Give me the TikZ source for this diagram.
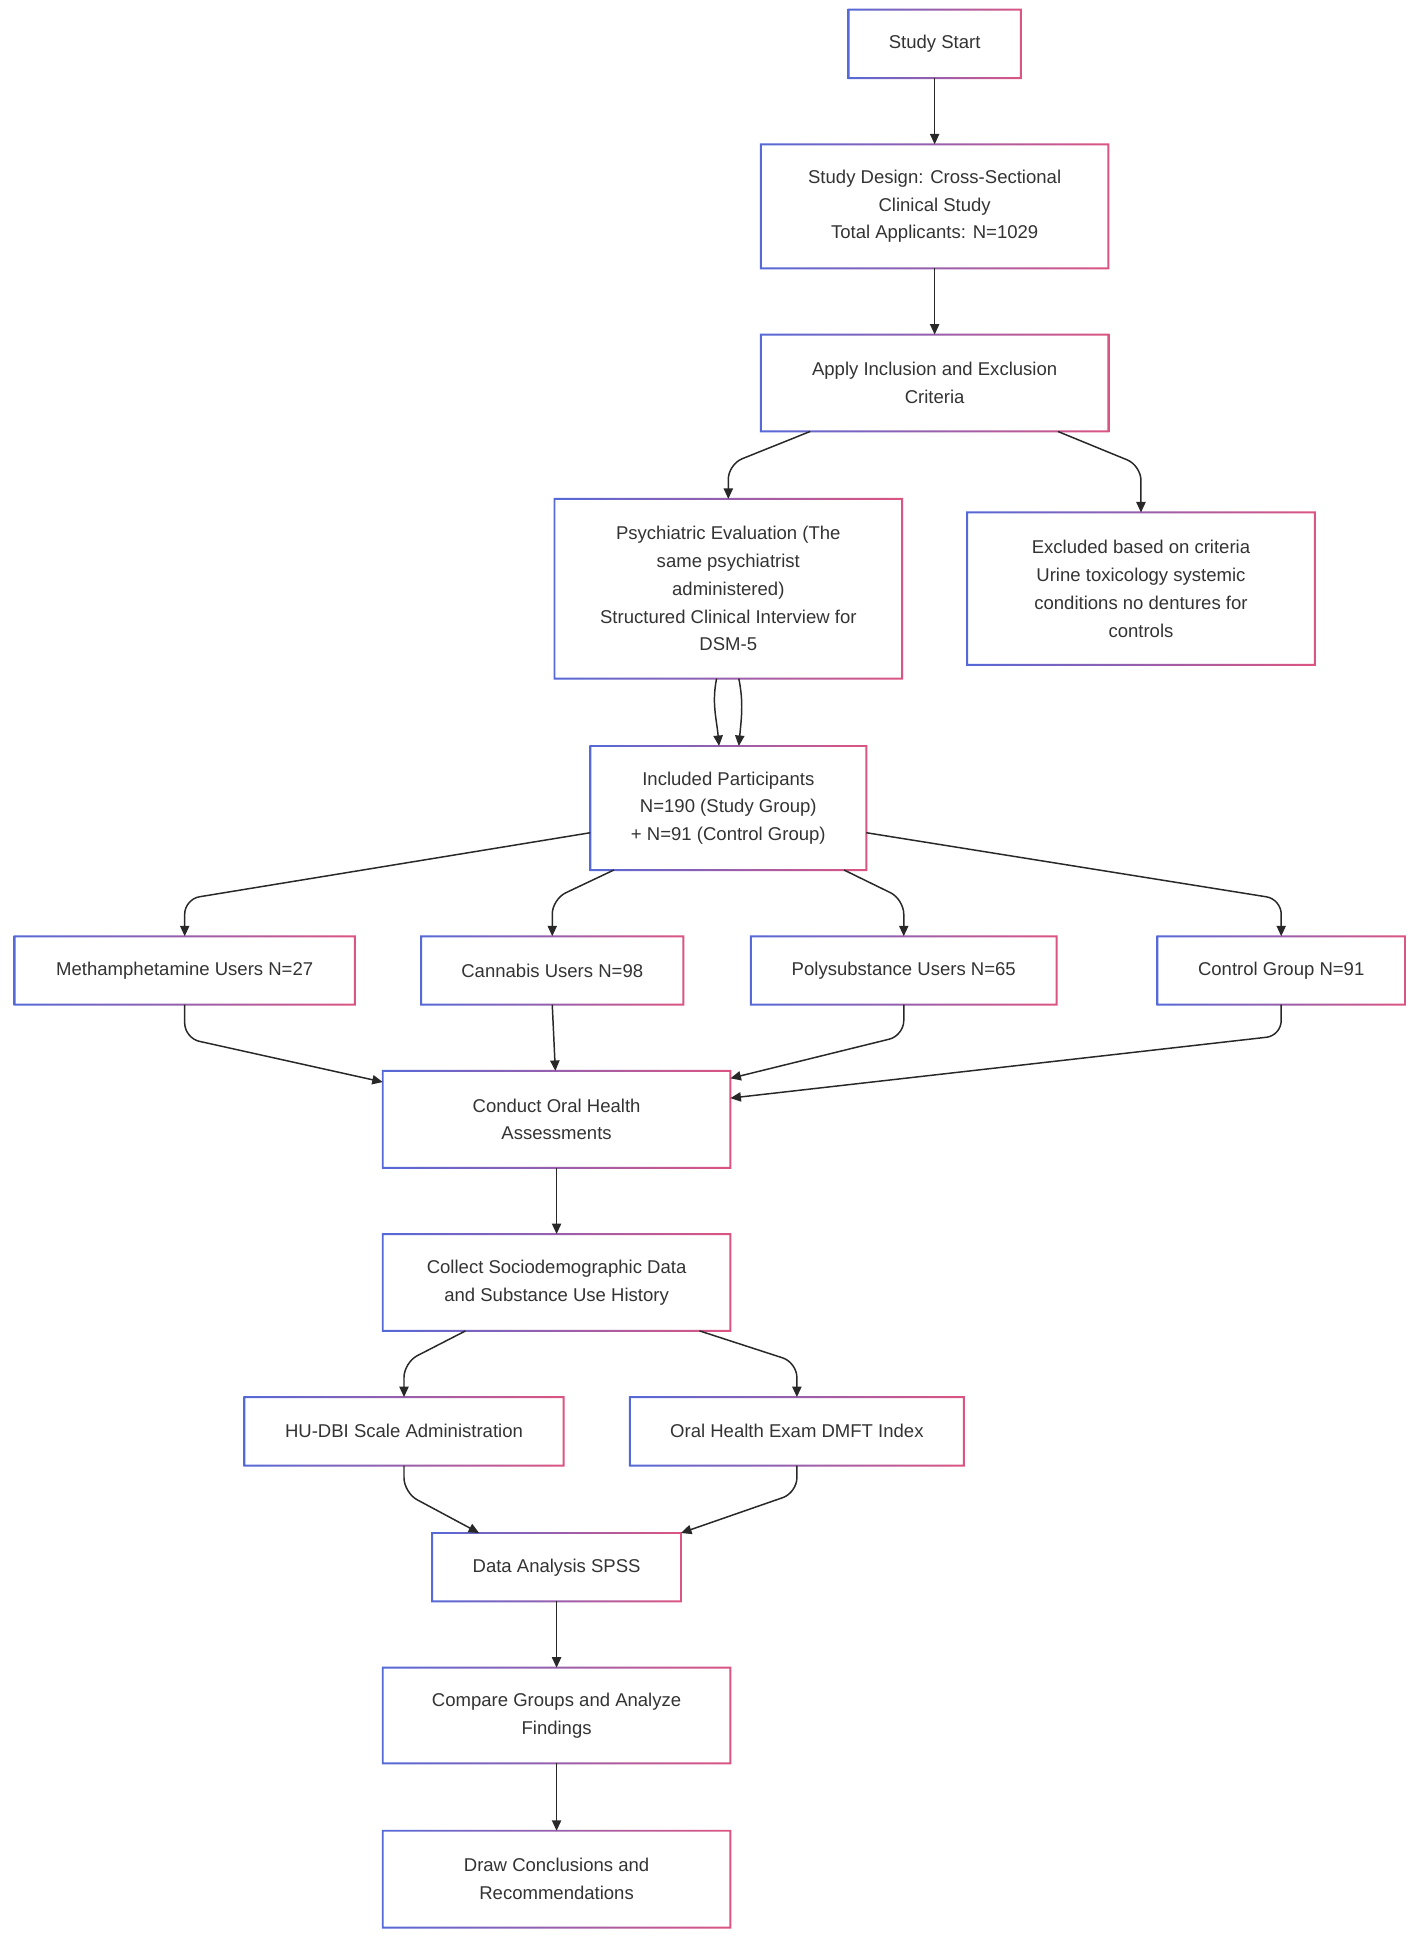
\documentclass[tikz,border=0pt]{standalone}
\usepackage{fontspec}
\setmainfont{Liberation Sans}
\usetikzlibrary{arrows.meta,calc}
\definecolor{bblue}{RGB}{85,105,215}
\definecolor{bpink}{RGB}{220,85,130}
\definecolor{txt}{RGB}{51,51,51}
\definecolor{lnk}{RGB}{40,40,40}
\tikzset{
  box/.style={rectangle, draw=none, inner sep=0pt, align=center, text=txt,
    font=\fontsize{15}{22.5}\selectfont},
  arr/.style={draw=lnk, line width=1.2pt, rounded corners=12pt,
    -{Triangle[length=8.5pt,width=7.5pt]}},
}
\newcommand\gbox[6]{%
  \node[box, minimum width=#4pt, minimum height=#5pt] (#1) at (#2,#3) {#6};
  \shade[left color=bblue, right color=bpink, even odd rule]
    ([shift={(-0.8pt,-0.8pt)}]#1.south west) rectangle ([shift={(0.8pt,0.8pt)}]#1.north east)
    ([shift={(0.8pt,0.8pt)}]#1.south west) rectangle ([shift={(-0.8pt,-0.8pt)}]#1.north east);
}
\begin{document}
\begin{tikzpicture}[x=1pt,y=-1pt]
\useasboundingbox[fill=white] (0,0) rectangle (1147,1567);
\gbox{start}{756.5}{35.5}{139}{55}{Study Start}
\gbox{design}{756.5}{167}{281}{100}{Study Design: Cross-Sectional\\Clinical Study\\Total Applicants: N=1029}
\gbox{apply}{756.5}{310}{281}{78}{Apply Inclusion and Exclusion\\Criteria}
\gbox{psych}{589.5}{476.5}{281}{145}{Psychiatric Evaluation (The\\same psychiatrist\\administered)\\Structured Clinical Interview for\\DSM-5}
\gbox{excl}{923.5}{476.5}{281}{123}{Excluded based on criteria\\Urine toxicology systemic\\conditions no dentures for\\controls}
\gbox{incl}{589.5}{654}{223}{100}{Included Participants\\N=190 (Study Group)\\+ N=91 (Control Group)}
\gbox{meth}{149.5}{785.5}{275}{55}{Methamphetamine Users N=27}
\gbox{cann}{447}{785.5}{212}{55}{Cannabis Users N=98}
\gbox{poly}{731.5}{785.5}{247}{55}{Polysubstance Users N=65}
\gbox{ctrl}{1037}{785.5}{200}{55}{Control Group N=91}
\gbox{conduct}{450.5}{906}{281}{78}{Conduct Oral Health\\Assessments}
\gbox{collect}{450.5}{1038}{281}{78}{Collect Sociodemographic Data\\and Substance Use History}
\gbox{hu}{327}{1158.5}{258}{55}{HU-DBI Scale Administration}
\gbox{oral}{645}{1158.5}{270}{55}{Oral Health Exam DMFT Index}
\gbox{data}{450.5}{1268.5}{201}{55}{Data Analysis SPSS}
\gbox{compare}{450.5}{1388.5}{281}{77}{Compare Groups and Analyze\\Findings}
\gbox{draw}{450.5}{1521}{281}{78}{Draw Conclusions and\\Recommendations}

\draw[arr] (start.south) -- (design.north);
\draw[arr] (design.south) -- (apply.north);
\draw[arr] ([xshift=40pt]apply.south west) -- ([yshift=28pt]psych.north) -- (psych.north);
\draw[arr] ([xshift=-41pt]apply.south east) -- ([yshift=38pt]excl.north) -- (excl.north);
\draw[arr] ([xshift=-9.5pt]psych.south) .. controls +(-4pt,-20pt) and +(-2pt,22pt) .. ([xshift=-7.5pt]incl.north);
\draw[arr] ([xshift=8.5pt]psych.south) .. controls +(4pt,-20pt) and +(2pt,22pt) .. ([xshift=8.5pt]incl.north);
\draw[arr] ([yshift=-20pt]incl.west) -- ([yshift=30pt]meth.north) -- (meth.north);
\draw[arr] ([xshift=19pt]incl.south west) -- ([yshift=30pt]cann.north) -- (cann.north);
\draw[arr] ([xshift=-18pt]incl.south east) -- ([yshift=30pt]poly.north) -- (poly.north);
\draw[arr] ([yshift=-20pt]incl.east) -- ([yshift=30pt]ctrl.north) -- (ctrl.north);
\draw[arr] (meth.south) -- ([yshift=-27pt]meth.south) -- ([yshift=-9pt]conduct.north west);
\draw[arr] (cann.south) -- ([xshift=-1pt]conduct.north);
\draw[arr] (poly.south) -- ([yshift=-25pt]poly.south) -- ([yshift=-6pt]conduct.north east);
\draw[arr] (ctrl.south) -- ([yshift=-25pt]ctrl.south) -- ([yshift=-22pt]conduct.north east);
\draw[arr] (conduct.south) -- (collect.north);
\draw[arr] ([xshift=67pt]collect.south west) -- ([yshift=28pt]hu.north) -- (hu.north);
\draw[arr] ([xshift=-25pt]collect.south east) -- ([yshift=28pt]oral.north) -- (oral.north);
\draw[arr] (hu.south) -- ([yshift=-22pt]hu.south) -- ([xshift=38pt]data.north west);
\draw[arr] (oral.south) -- ([yshift=-22pt]oral.south) -- (data.north east);
\draw[arr] (data.south) -- (compare.north);
\draw[arr] (compare.south) -- (draw.north);
\end{tikzpicture}
\end{document}
